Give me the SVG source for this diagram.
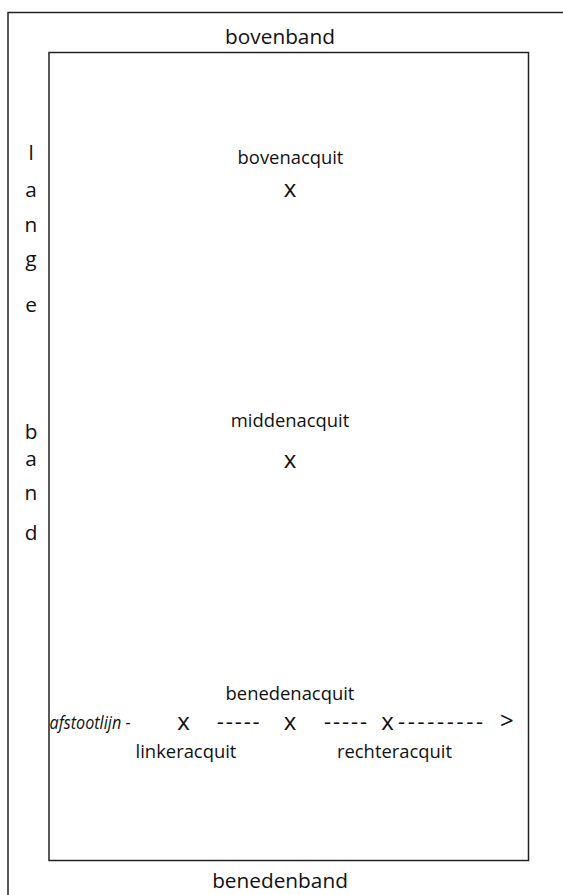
<svg xmlns="http://www.w3.org/2000/svg" width="563" height="895" viewBox="0 0 563 895">
<style>
text{font-family:"Open Sans","Noto Sans",sans-serif;fill:#111}
.big{font-size:20.8px}
.med{font-size:18.4px}
.mark{font-size:24px}
.dash{font-size:22px}
.c{text-anchor:middle}
.frame{fill:none;stroke:#222;stroke-width:1.5}
</style>
<rect width="563" height="895" fill="#fff"/>
<g id="outer-frame"><rect class="frame" x="8" y="12.5" width="600" height="900"/></g>
<g id="inner-frame"><rect class="frame" x="49" y="52.5" width="479.5" height="808"/></g>
<g id="bovenband"><text class="big c" x="280" y="44">bovenband</text></g>
<g id="benedenband"><text class="big c" x="280" y="888">benedenband</text></g>
<g id="lange-band">
<text class="big c" x="31" y="160">l</text>
<text class="big c" x="31" y="197">a</text>
<text class="big c" x="31" y="232">n</text>
<text class="big c" x="31" y="266">g</text>
<text class="big c" x="31" y="312">e</text>
<text class="big c" x="31" y="439">b</text>
<text class="big c" x="31" y="466">a</text>
<text class="big c" x="31" y="500">n</text>
<text class="big c" x="31" y="540">d</text>
</g>
<g id="bovenacquit">
<text class="med c" x="290.5" y="164">bovenacquit</text>
<text class="mark c" x="290" y="197">x</text>
</g>
<g id="middenacquit">
<text class="med c" x="290" y="427">middenacquit</text>
<text class="mark c" x="290" y="468">x</text>
</g>
<g id="benedenacquit">
<text class="med c" x="290" y="700">benedenacquit</text>
<text class="mark c" x="290" y="730">x</text>
</g>
<g id="linkeracquit">
<text class="mark c" x="183.5" y="730">x</text>
<text class="med c" x="186" y="758">linkeracquit</text>
</g>
<g id="rechteracquit">
<text class="mark c" x="387.5" y="730">x</text>
<text class="med c" x="394.5" y="758">rechteracquit</text>
</g>
<g id="connectors">
<text x="49.5" y="729" font-size="17.8" font-style="italic" textLength="81" lengthAdjust="spacingAndGlyphs">afstootlijn -</text>
<text class="dash" x="216.7" y="729" textLength="43" lengthAdjust="spacing">-----</text>
<text class="dash" x="324" y="729" textLength="43" lengthAdjust="spacing">-----</text>
<text class="dash" x="398" y="729" textLength="85" lengthAdjust="spacing">---------</text>
<text class="mark" x="500" y="729">&gt;</text>
</g>
</svg>
